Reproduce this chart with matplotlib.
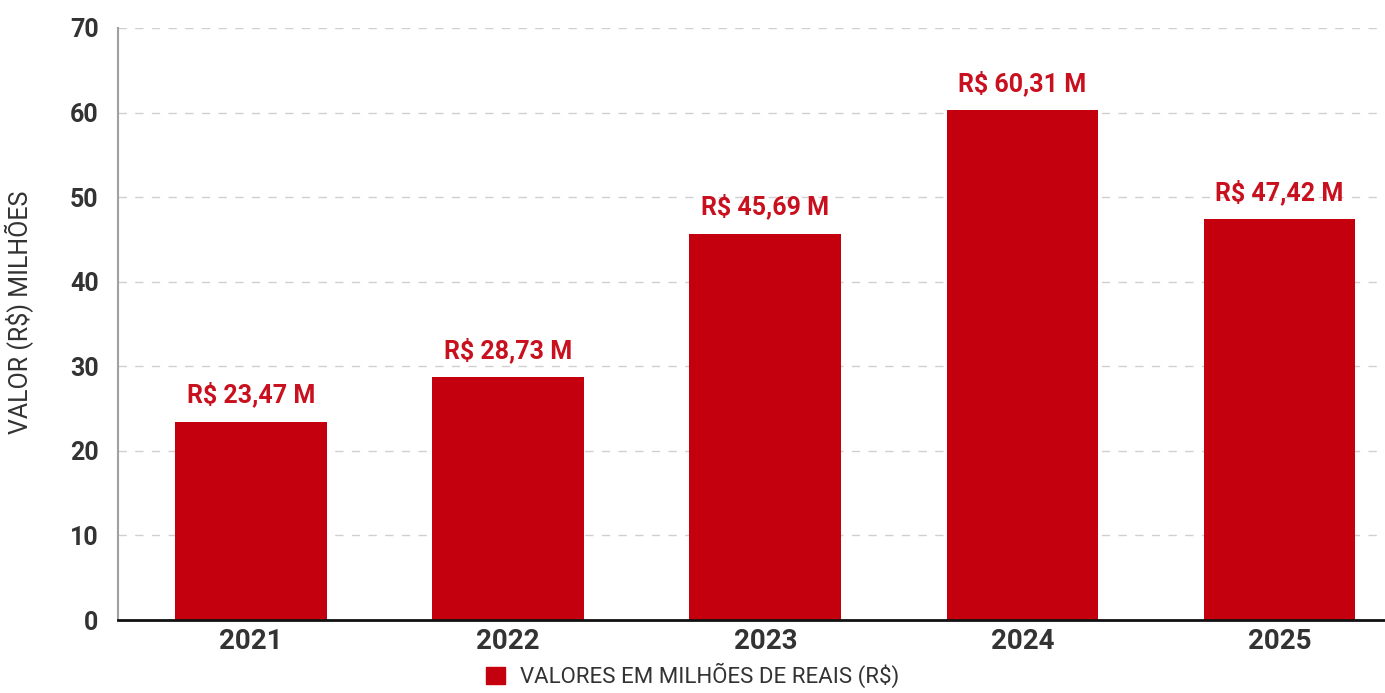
import matplotlib.pyplot as plt
from matplotlib.patches import Patch

plt.rcParams['font.family'] = ['Roboto', 'DejaVu Sans']

anos = ['2021', '2022', '2023', '2024', '2025']
valores = [23.47, 28.73, 45.69, 60.31, 47.42]
rotulos = ['R$ 23,47 M', 'R$ 28,73 M', 'R$ 45,69 M', 'R$ 60,31 M', 'R$ 47,42 M']
y_ticks = [0, 10, 20, 30, 40, 50, 60, 70]

VERMELHO = '#c4000f'
TEXTO = '#333333'

fig = plt.figure(figsize=(13.85, 6.93), dpi=100)
ax = fig.add_axes([0.0852, 0.1053, 0.9148, 0.8543])

x = range(len(anos))
bars = ax.bar(x, valores, width=0.59, color=VERMELHO, zorder=3)

for b, txt in zip(bars, rotulos):
    ax.annotate(txt, (b.get_x() + b.get_width() / 2, b.get_height()),
                xytext=(0, 10), textcoords='offset points',
                ha='center', va='bottom', fontsize=18, fontweight='bold',
                color='#c8101e', zorder=4)

ax.set_xlim(-0.517, 4.41)
ax.set_ylim(0, 70)
ax.set_yticks(y_ticks)
ax.set_xticks(list(x))
ax.set_xticklabels(anos)

for lbl in ax.get_xticklabels():
    lbl.set_fontsize(20)
    lbl.set_fontweight('bold')
    lbl.set_color(TEXTO)
for lbl in ax.get_yticklabels():
    lbl.set_fontsize(18)
    lbl.set_fontweight('bold')
    lbl.set_color(TEXTO)

ax.tick_params(axis='both', length=0)
ax.tick_params(axis='y', pad=14)
ax.tick_params(axis='x', pad=6)

ax.grid(axis='y', linestyle=(0, (6, 6)), color='#d0d0d0', linewidth=1, zorder=0)
ax.spines['top'].set_visible(False)
ax.spines['right'].set_visible(False)
ax.spines['left'].set_color('#a0a0a0')
ax.spines['left'].set_linewidth(1.5)
ax.spines['bottom'].set_color('#111111')
ax.spines['bottom'].set_linewidth(2)
ax.spines['bottom'].set_zorder(5)

ax.set_ylabel('VALOR (R$) MILHÕES', fontsize=18, color=TEXTO)
ax.yaxis.set_label_coords(-0.066, 0.52)

fig.legend(handles=[Patch(color=VERMELHO, label='VALORES EM MILHÕES DE REAIS (R$)')],
           loc='lower center', bbox_to_anchor=(0.5, -0.022), frameon=False,
           fontsize=16, labelcolor=TEXTO, handlelength=0.85, handleheight=0.85,
           handletextpad=0.7)

fig.savefig('out.png', dpi=100, facecolor='white')
